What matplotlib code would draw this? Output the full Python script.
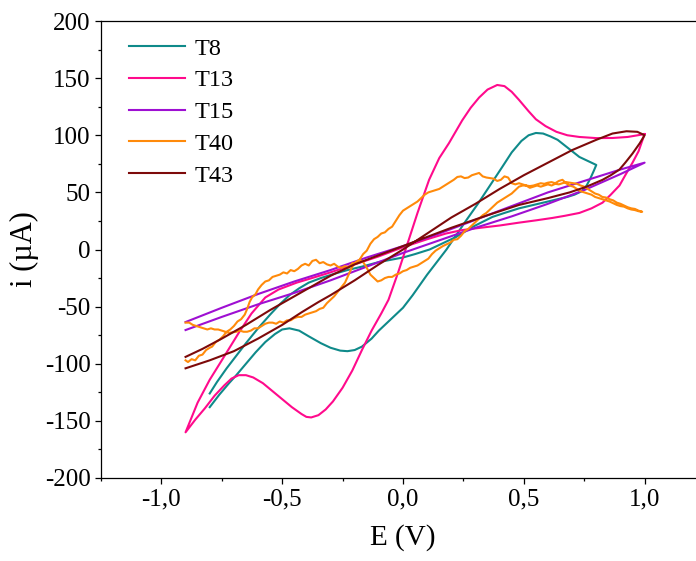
import matplotlib
matplotlib.use("Agg")
import matplotlib.pyplot as plt
from matplotlib.ticker import FuncFormatter, MultipleLocator

plt.rcParams['font.family'] = ['Liberation Serif', 'DejaVu Serif']
plt.rcParams['axes.unicode_minus'] = False

# T8 - voltametria (E em V, i em uA), caminho fechado
t8_E = [-0.80, -0.76, -0.72, -0.69, -0.65, -0.61, -0.57, -0.53, -0.50, -0.47, -0.43, -0.39,
        -0.34, -0.30, -0.26, -0.23, -0.20, -0.17, -0.13, -0.10, -0.05, 0.00, 0.04, 0.10,
        0.18, 0.26, 0.31, 0.36, 0.41, 0.45, 0.49, 0.52, 0.55, 0.58, 0.61, 0.64, 0.67, 0.70,
        0.73, 0.76, 0.78, 0.80,
        0.79, 0.775, 0.76, 0.74, 0.71, 0.68, 0.64, 0.59, 0.53, 0.48, 0.42, 0.37, 0.29, 0.22,
        0.16, 0.11, 0.05, 0.00, -0.05, -0.10, -0.17, -0.23, -0.28, -0.34, -0.39, -0.43,
        -0.47, -0.51, -0.55, -0.60, -0.65, -0.69, -0.73, -0.77, -0.80]
t8_i = [-138, -127, -117, -110, -100, -90, -81, -74, -70, -69, -71, -76,
        -82, -86, -88.5, -89, -88, -85, -78, -71, -61, -51, -40, -22,
        0, 25, 40, 56, 72, 85, 95, 100, 102, 101.5, 99, 96, 91, 86,
        81, 78, 76, 74,
        69, 62, 56, 51, 48, 46, 44, 41.5, 38.5, 36, 32, 28.5, 20, 11,
        5, 0, -4, -7, -9, -11, -15, -18, -21, -25, -29, -34,
        -40, -48, -57, -69, -82, -93, -104, -116, -126]

# T13
t13_E = [1.00, 0.99, 0.975, 0.95, 0.92, 0.896, 0.86, 0.826, 0.78, 0.73, 0.67, 0.618, 0.55,
         0.48, 0.40, 0.32, 0.245, 0.178, 0.10, 0.00, -0.10, -0.20, -0.30, -0.377, -0.44,
         -0.515, -0.57, -0.627, -0.68, -0.75, -0.80, -0.85, -0.90,
         -0.86, -0.82, -0.78, -0.74, -0.71, -0.68, -0.65, -0.62, -0.58, -0.54, -0.50, -0.46,
         -0.42, -0.40, -0.38, -0.35, -0.32, -0.29, -0.25, -0.21, -0.17, -0.13, -0.09, -0.06,
         -0.02, 0.02, 0.06, 0.108, 0.15, 0.19, 0.245, 0.28, 0.315, 0.35, 0.39, 0.42, 0.45,
         0.48, 0.52, 0.55, 0.59, 0.635, 0.68, 0.73, 0.80, 0.867, 0.93, 1.00]
t13_i = [101, 95, 86, 76, 65, 56, 48, 41, 36, 32, 29.5, 27.6, 25.5,
         23.5, 21, 19, 17, 14, 9, 2, -6, -13, -20, -25, -29,
         -35, -42, -56, -73, -97, -114, -134, -160,
         -149, -139, -128, -119, -113, -110, -110, -112, -117, -124, -131, -138,
         -144, -146.5, -147, -145, -140, -133, -121, -106, -88, -71, -56, -44,
         -20, 6, 32, 61, 80, 93, 113, 124, 133, 140, 144, 143, 138,
         131, 121, 114, 108, 103, 100, 98.5, 97.5, 97.6, 98.5, 101]

# T15
t15_E = [-0.90, -0.75, -0.60, -0.45, -0.30, -0.15, 0.00, 0.15, 0.30, 0.45, 0.60, 0.75, 0.90, 1.00,
         0.90, 0.75, 0.60, 0.45, 0.30, 0.15, 0.00, -0.15, -0.30, -0.45, -0.60, -0.75, -0.90]
t15_i = [-63.5, -51, -39, -28, -18, -7, 3, 14, 26, 38, 50, 60, 70, 76,
         66, 52, 40, 29, 19, 8, -3, -15, -27, -38, -48, -59, -70.5]

# T40 (sinal com ruido)
t40_E = [-0.90, -0.89, -0.875, -0.86, -0.845, -0.83, -0.815, -0.80, -0.79, -0.775, -0.76, -0.745,
         -0.73, -0.715, -0.70, -0.685, -0.67, -0.655, -0.645, -0.635, -0.625, -0.61, -0.60,
         -0.585, -0.57, -0.555, -0.54, -0.525, -0.51, -0.495, -0.48, -0.465, -0.45, -0.435,
         -0.42, -0.405, -0.39, -0.375, -0.36, -0.345, -0.33, -0.315, -0.30, -0.285, -0.27,
         -0.255, -0.24, -0.225, -0.21, -0.195, -0.18, -0.165, -0.15, -0.135, -0.12, -0.105,
         -0.09, -0.075, -0.06, -0.045, -0.03, -0.015, 0.0, 0.015, 0.03, 0.045, 0.06, 0.075,
         0.09, 0.105, 0.12, 0.135, 0.15, 0.165, 0.18, 0.195, 0.21, 0.225, 0.24, 0.255, 0.27,
         0.285, 0.30, 0.315, 0.33, 0.345, 0.36, 0.375, 0.39, 0.405, 0.42, 0.435, 0.45, 0.465,
         0.48, 0.495, 0.51, 0.525, 0.54, 0.555, 0.57, 0.585, 0.60, 0.615, 0.63, 0.645, 0.66,
         0.675, 0.69, 0.705, 0.72, 0.735, 0.75, 0.765, 0.78, 0.795, 0.81, 0.825, 0.84, 0.855,
         0.87, 0.885, 0.90, 0.915, 0.93, 0.945, 0.96, 0.975, 0.99,
         0.975, 0.96, 0.945, 0.93, 0.915, 0.90, 0.885, 0.87, 0.855, 0.84, 0.825, 0.81, 0.795,
         0.78, 0.765, 0.75, 0.735, 0.72, 0.705, 0.69, 0.675, 0.66, 0.645, 0.63, 0.615, 0.60,
         0.585, 0.57, 0.555, 0.54, 0.525, 0.51, 0.495, 0.48, 0.465, 0.45, 0.435, 0.42, 0.405,
         0.39, 0.375, 0.36, 0.345, 0.33, 0.315, 0.30, 0.285, 0.27, 0.255, 0.24, 0.225, 0.21,
         0.195, 0.18, 0.165, 0.15, 0.135, 0.12, 0.105, 0.09, 0.075, 0.06, 0.045, 0.03, 0.015,
         0.0, -0.015, -0.03, -0.045, -0.06, -0.075, -0.09, -0.105, -0.12, -0.135, -0.15,
         -0.165, -0.18, -0.195, -0.21, -0.225, -0.24, -0.255, -0.27, -0.285, -0.30, -0.315,
         -0.33, -0.345, -0.36, -0.375, -0.39, -0.405, -0.42, -0.435, -0.45, -0.465, -0.48,
         -0.495, -0.51, -0.525, -0.54, -0.555, -0.57, -0.585, -0.60, -0.615, -0.63, -0.645,
         -0.66, -0.675, -0.69, -0.705, -0.72, -0.735, -0.75, -0.765, -0.78, -0.795, -0.81,
         -0.825, -0.84, -0.855, -0.87, -0.885, -0.90]
t40_i = [-97, -98.5, -96, -97, -93, -92, -88, -86, -85, -81, -79, -76,
         -72, -70, -67, -63, -61, -57, -52, -46, -42, -39, -35,
         -31, -28, -27, -24, -23, -22, -20, -21, -18, -19, -17,
         -14, -12.5, -14, -10, -9, -12, -11, -13, -14, -12.5, -15,
         -16, -14.5, -16, -12, -12, -9, -4, -1, 5, 9, 11,
         14, 15, 18, 20, 25, 30, 34, 36, 38, 40, 42, 45,
         48, 50, 51, 52, 53, 55, 57, 59, 61, 63.5, 64, 62.5, 63,
         65, 66, 67, 64, 63, 62.5, 62, 60, 61, 64, 63, 58, 57,
         58, 57, 56, 55.5, 56, 57, 58, 57.5, 58.5, 59, 58, 60, 61,
         58, 56, 55, 53, 51, 50, 49, 48, 46, 45, 44, 43, 42,
         40.5, 39, 38, 37.5, 36, 35, 34.5, 33.5, 33,
         34, 35.5, 36, 37, 38.5, 40, 41, 43, 44, 45.5, 46, 48, 49,
         51, 53, 55, 56, 57.5, 58, 58.5, 59, 58, 57, 57.5, 56, 57,
         56, 55, 56, 55, 54, 56, 56, 55, 52, 49, 47, 45, 43,
         41, 38, 35, 32, 30, 27, 24, 21, 18, 16, 12, 9, 8.5,
         6, 4.5, 3, 1, -1, -4, -8, -10, -12, -14, -15, -16, -18,
         -19, -21, -22, -24, -24, -25, -27, -28, -25, -22, -16,
         -11, -9, -11, -15, -22, -29, -33, -37, -41, -44, -47,
         -51, -52, -54, -55, -56, -57, -59, -59, -60, -62, -62,
         -64, -63, -65, -64, -64, -65, -67, -69, -69, -71, -72,
         -72, -71, -72, -72.5, -73, -72, -71, -70, -70, -69, -70,
         -69, -68, -67, -66, -64, -64]

# T43
t43_E = [-0.90, -0.80, -0.70, -0.60, -0.50, -0.42, -0.35, -0.30, -0.20, -0.10, 0.00, 0.10,
         0.20, 0.30, 0.40, 0.50, 0.60, 0.70, 0.80, 0.867, 0.925, 0.97, 1.00,
         0.98, 0.95, 0.92, 0.896, 0.86, 0.826, 0.76, 0.69, 0.60, 0.48, 0.35, 0.20, 0.10, 0.00,
         -0.10, -0.20, -0.30, -0.35, -0.45, -0.55, -0.65, -0.75, -0.83, -0.90]
t43_i = [-104, -97, -89, -78, -66, -55, -46, -40, -27, -13, 0, 14,
         28, 40, 53, 65, 76, 87, 96, 101.5, 103.5, 103, 100,
         93, 84, 76, 70, 65, 61, 55, 50, 45, 39, 30, 19, 11, 3,
         -5, -13, -23, -29, -41, -53, -66, -78, -87, -94]

series = [("T8", t8_E, t8_i, "#0F8A8A"),
          ("T13", t13_E, t13_i, "#FF0A8C"),
          ("T15", t15_E, t15_i, "#9E0FD2"),
          ("T40", t40_E, t40_i, "#FF8A0A"),
          ("T43", t43_E, t43_i, "#7D0A0A")]

fig = plt.figure(figsize=(6.96, 5.61), dpi=100)
ax = fig.add_axes([101/696, 83/561, 604/696, 457/561])

for nome, E, i, cor in series:
    ax.plot(E, i, color=cor, lw=1.5, label=nome)

ax.set_xlim(-1.25, 1.25)
ax.set_ylim(-200, 200)
ax.xaxis.set_major_locator(MultipleLocator(0.5))
ax.xaxis.set_minor_locator(MultipleLocator(0.25))
ax.yaxis.set_major_locator(MultipleLocator(50))
ax.yaxis.set_minor_locator(MultipleLocator(25))
ax.xaxis.set_major_formatter(FuncFormatter(lambda v, p: f"{v:.1f}".replace(".", ",")))
ax.yaxis.set_major_formatter(FuncFormatter(lambda v, p: f"{int(round(v))}"))

ax.tick_params(which='both', direction='out', top=False, right=False, width=0.9, labelsize=18)
ax.tick_params(which='major', length=4.5, pad=3)
ax.tick_params(which='minor', length=2.5)
for s in ax.spines.values():
    s.set_linewidth(0.9)

ax.set_xlabel("E (V)", fontsize=21, labelpad=10)
ax.set_ylabel("i (µA)", fontsize=22, labelpad=4)

ax.legend(loc='upper left', bbox_to_anchor=(0.03, 0.985), borderaxespad=0, frameon=False,
          fontsize=17.5, handlelength=2.3, labelspacing=0.4, handletextpad=0.4)

fig.savefig("out.png", dpi=100)
